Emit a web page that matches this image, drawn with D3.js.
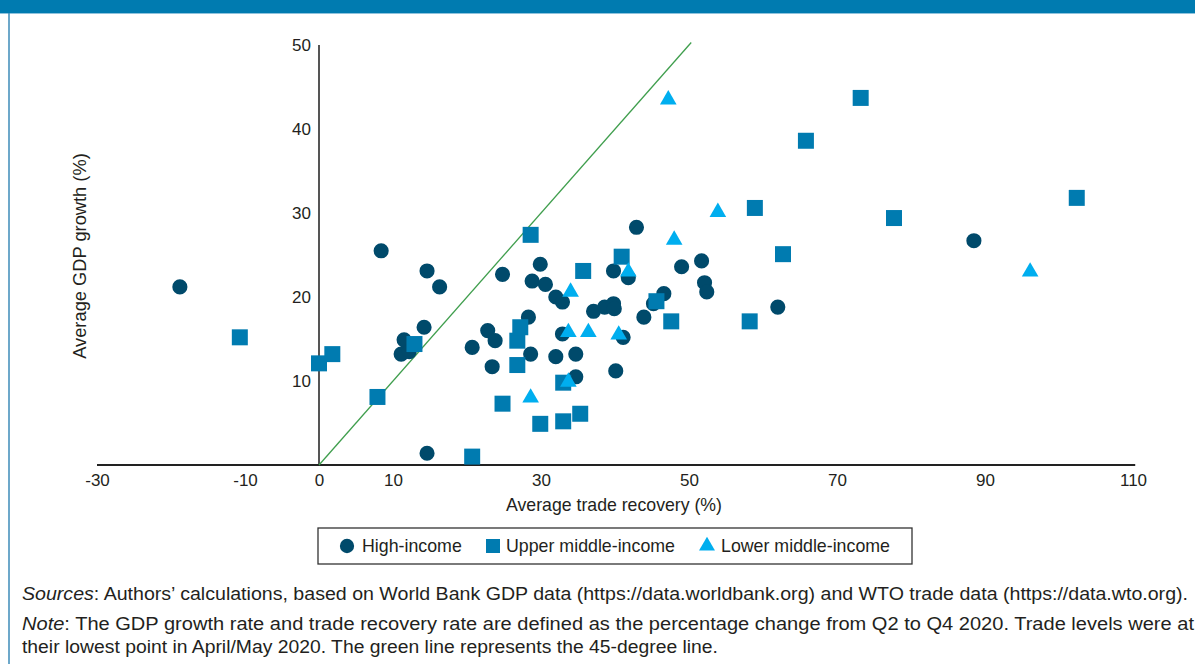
<!DOCTYPE html>
<html>
<head>
<meta charset="utf-8">
<script src="https://cdn.jsdelivr.net/npm/d3@7"></script>
<style>
body{margin:0;background:#fff;}
svg{display:block;font-family:"Liberation Sans",Arial,sans-serif;}
</style>
</head>
<body>
<svg id="chart"></svg>
<script>
// high-income: [trade recovery %, GDP growth %]
let highIncome=[[-18.8,21.2],[8.4,25.5],[14.6,23.1],[16.3,21.2],[14.2,16.4],[11.5,14.9],[11.1,13.2],[12.2,13.5],
 [14.6,1.4],[20.7,14.0],[22.8,16.0],[23.8,14.8],[23.4,11.7],[24.8,22.7],[28.3,17.6],[28.6,13.2],[28.8,21.9],
 [29.9,23.9],[30.6,21.5],[32.0,20.0],[32.9,19.4],[32.9,15.6],[32.0,12.9],[34.7,13.2],[34.7,10.5],[37.1,18.3],
 [38.6,18.8],[39.8,19.2],[39.9,18.6],[39.8,23.1],[41.8,22.3],[40.1,11.2],[41.1,15.2],[42.9,28.3],[43.9,17.6],
 [45.2,19.2],[46.6,20.4],[49.0,23.6],[51.7,24.3],[52.1,21.7],[52.4,20.6],[62.0,18.8],[88.5,26.7]];
let upperMiddle=[[-10.7,15.2],[0.0,12.1],[1.8,13.2],[7.9,8.1],[12.9,14.4],[20.7,1.0],[24.8,7.3],[26.8,14.8],
 [27.2,16.4],[26.8,11.9],[28.6,27.4],[29.9,4.9],[33.0,9.8],[33.0,5.2],[35.3,6.1],[35.7,23.1],[40.9,24.8],
 [45.6,19.5],[47.6,17.1],[58.2,17.1],[58.9,30.6],[62.7,25.1],[65.8,38.6],[73.2,43.7],[77.7,29.4],[102.4,31.8]];
let lowerMiddle=[[47.2,43.5],[53.9,30.1],[48.0,26.8],[41.8,23.0],[34.0,20.6],[33.7,15.8],[36.4,15.8],[40.5,15.5],
 [33.7,9.9],[28.6,8.0],[96.1,23.0]];

let xTicks=[-30,-10,0,10,30,50,70,90,110];
let yTicks=[10,20,30,40,50];
let seriesNames=['High-income','Upper middle-income','Lower middle-income'];

let width=1195;
let height=664;
const svg=d3.select('#chart').attr('width',width).attr('height',height);

// frame
svg.append('rect').attr('x',0).attr('y',0).attr('width',width).attr('height',13).attr('fill','#007bb0');
svg.append('line').attr('x1',0).attr('x2',width).attr('y1',13.5).attr('y2',13.5).attr('stroke','#8fc3dd').attr('stroke-width',1);
svg.append('line').attr('x1',9).attr('x2',9).attr('y1',13).attr('y2',height).attr('stroke','#3d8bb8').attr('stroke-width',1.5);

let xScale=d3.scaleLinear().domain([-30,110]).range([97,1133]);
let yScale=d3.scaleLinear().domain([0,50]).range([465,45]);

// axes
let xAxis=d3.axisBottom(xScale).tickValues(xTicks).tickSize(0).tickPadding(9).tickFormat((d)=>String(d));
let gx=svg.append('g').attr('transform','translate(0,'+yScale(0)+')').call(xAxis);
gx.select('.domain').remove();
gx.selectAll('text').attr('font-size',17).attr('fill','#231f20').style('font-family','"Liberation Sans",Arial,sans-serif');

let yAxis=d3.axisLeft(yScale).tickValues(yTicks).tickSize(0).tickPadding(8).tickFormat((d)=>String(d));
let gy=svg.append('g').attr('transform','translate('+xScale(0)+',0)').call(yAxis);
gy.select('.domain').remove();
gy.selectAll('text').attr('font-size',17).attr('fill','#231f20').style('font-family','"Liberation Sans",Arial,sans-serif');

svg.append('line').attr('x1',xScale(0)).attr('x2',xScale(0)).attr('y1',yScale(50)).attr('y2',yScale(0))
  .attr('stroke','#555').attr('stroke-width',2);
svg.append('line').attr('x1',xScale(-30)).attr('x2',xScale(110.3)).attr('y1',yScale(0)).attr('y2',yScale(0))
  .attr('stroke','#222').attr('stroke-width',2);

// 45-degree line
svg.append('line').attr('x1',xScale(0)).attr('y1',yScale(0)).attr('x2',xScale(50.3)).attr('y2',yScale(50.3))
  .attr('stroke','#3f9e4d').attr('stroke-width',1.3);

svg.append('text').attr('x',614).attr('y',511).attr('text-anchor','middle').attr('font-size',17.7)
  .attr('fill','#231f20').text('Average trade recovery (%)');
svg.append('text').attr('transform','translate(86,256) rotate(-90)').attr('text-anchor','middle').attr('font-size',18.3)
  .attr('fill','#231f20').text('Average GDP growth (%)');

let colors=['#004a6b','#007bb0','#00aeef'];
let symbols=[d3.symbolCircle,d3.symbolSquare,d3.symbolTriangle];
let sizes=[180,256,120];
[highIncome,upperMiddle,lowerMiddle].forEach((arr,i)=>{
  svg.append('g').selectAll('path')
    .data(arr)
    .enter()
    .append('path')
    .attr('d',d3.symbol().type(symbols[i]).size(sizes[i]))
    .attr('transform',(d)=>'translate('+xScale(d[0])+','+yScale(d[1])+')')
    .attr('fill',colors[i]);
});

// legend
svg.append('rect').attr('x',318).attr('y',528).attr('width',594).attr('height',36)
  .attr('fill','none').attr('stroke','#333').attr('stroke-width',1.3);
let legendX=[347,493,707];
let legendTextX=[362,506,721];
let legendSizes=[160,196,110];
seriesNames.forEach((name,i)=>{
  svg.append('path').attr('d',d3.symbol().type(symbols[i]).size(legendSizes[i])())
    .attr('transform','translate('+legendX[i]+',546)').attr('fill',colors[i]);
  svg.append('text').attr('x',legendTextX[i]).attr('y',552).attr('font-size',17.8).attr('fill','#231f20').text(name);
});

// notes
let notes=svg.append('g').attr('font-size',17.5).attr('fill','#231f20');
let l1=notes.append('text').attr('x',22).attr('y',600).attr('textLength',1166).attr('lengthAdjust','spacingAndGlyphs');
l1.append('tspan').attr('font-style','italic').text('Sources');
l1.append('tspan').text(': Authors\u2019 calculations, based on World Bank GDP data (https://data.worldbank.org) and WTO trade data (https://data.wto.org).');
let l2=notes.append('text').attr('x',22).attr('y',630).attr('textLength',1172).attr('lengthAdjust','spacingAndGlyphs');
l2.append('tspan').attr('font-style','italic').text('Note');
l2.append('tspan').text(': The GDP growth rate and trade recovery rate are defined as the percentage change from Q2 to Q4 2020. Trade levels were at');
notes.append('text').attr('x',22).attr('y',653).attr('textLength',696).attr('lengthAdjust','spacingAndGlyphs')
  .text('their lowest point in April/May 2020. The green line represents the 45-degree line.');
</script>
</body>
</html>
